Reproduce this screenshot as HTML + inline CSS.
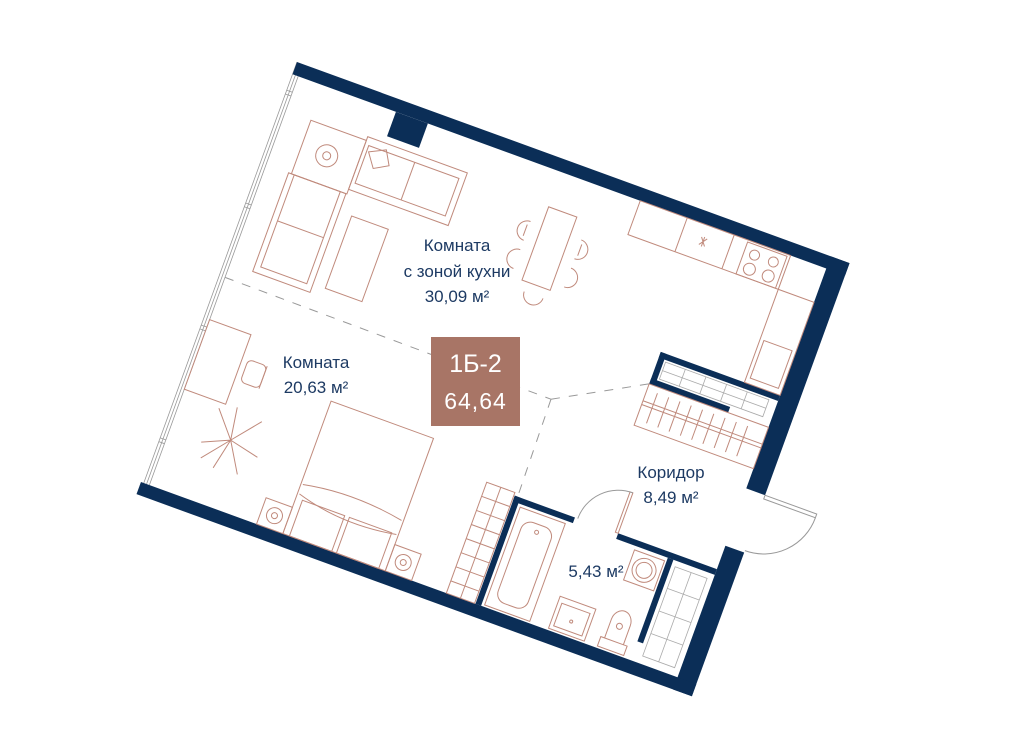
<!DOCTYPE html>
<html><head><meta charset="utf-8"><style>
html,body{margin:0;padding:0;background:#fff;}
svg{display:block;}
.t{font-family:"Liberation Sans",sans-serif;fill:#1d3a63;font-size:17px;}
</style></head><body>
<svg width="1024" height="742" viewBox="0 0 1024 742" xmlns="http://www.w3.org/2000/svg">
<g transform="translate(297,62) rotate(20)">
 <g fill="none" stroke="#999" stroke-width="0.8">
  <line x1="0" y1="0" x2="0" y2="448"/><line x1="3" y1="0" x2="3" y2="448"/><line x1="6" y1="13" x2="6" y2="448"/>
  <line x1="0" y1="30" x2="6" y2="30"/><line x1="0" y1="34" x2="6" y2="34"/>
  <line x1="0" y1="150" x2="6" y2="150"/><line x1="0" y1="154" x2="6" y2="154"/>
  <line x1="0" y1="280" x2="6" y2="280"/><line x1="0" y1="284" x2="6" y2="284"/>
  <line x1="0" y1="400" x2="6" y2="400"/><line x1="0" y1="404" x2="6" y2="404"/>
 </g>
 <g fill="#0b2e57">
  <rect x="0" y="0" width="588" height="13"/>
  <rect x="568" y="0" width="20" height="247"/>
  <rect x="568" y="308" width="20" height="153"/>
  <rect x="-3" y="448" width="591" height="13"/>
  <rect x="110" y="13" width="34" height="26"/>
  <rect x="353" y="333" width="6" height="115"/>
  <rect x="353" y="333" width="64" height="6"/>
  <rect x="463" y="333" width="105" height="6"/>
  <rect x="518" y="339" width="6" height="89"/>
  <rect x="441" y="148" width="127" height="6"/>
  <rect x="441" y="148" width="6" height="34"/>
  <rect x="441" y="176" width="84" height="6"/>
 </g>
 <g fill="none" stroke="#aaa" stroke-width="0.8">
  <rect x="449" y="156" width="110" height="18"/>
  <line x1="449" y1="165" x2="559" y2="165"/>
  <line x1="470" y1="156" x2="470" y2="174"/><line x1="492" y1="156" x2="492" y2="174"/><line x1="514" y1="156" x2="514" y2="174"/><line x1="536" y1="156" x2="536" y2="174"/>
  <rect x="528" y="345" width="34" height="95"/>
  <line x1="545" y1="345" x2="545" y2="440"/>
  <line x1="528" y1="368" x2="562" y2="368"/><line x1="528" y1="392" x2="562" y2="392"/><line x1="528" y1="416" x2="562" y2="416"/>
 </g>
 <g fill="none" stroke="#999" stroke-width="1" stroke-dasharray="9,9">
  <line x1="6" y1="227" x2="354" y2="230"/>
  <line x1="354" y1="230" x2="441" y2="182"/>
  <line x1="354" y1="230" x2="356" y2="333"/>
 </g>
 <g fill="none" stroke="#c08a7c" stroke-width="1">
  <rect x="92" y="46" width="106" height="56"/>
  <rect x="96" y="54" width="96" height="40"/>
  <line x1="145" y1="54" x2="145" y2="94"/>
  <rect x="30" y="107" width="61" height="105"/>
  <rect x="36" y="107" width="49" height="98"/>
  <line x1="36" y1="156" x2="85" y2="156"/>
  <rect x="33" y="50" width="59" height="57"/>
  <circle cx="60" cy="78" r="11"/><circle cx="60" cy="78" r="4"/>
  <path d="M98 60 L114 52 L122 66 L108 74 Z"/>
  <rect x="104" y="126" width="39" height="77"/>
  <rect x="286" y="50" width="30" height="78"/>
  <path d="M274 70 a10 10 0 0 0 0 20 M272 74 v12"/>
  <path d="M328 70 a10 10 0 0 1 0 20 M330 74 v12"/>
  <path d="M274 100 a10 10 0 0 0 0 20"/><path d="M328 100 a10 10 0 0 1 0 20"/>
  <path d="M292 138 a10 10 0 0 0 20 0"/>
  <rect x="370" y="13" width="160" height="36"/>
  <line x1="420" y1="13" x2="420" y2="49"/><line x1="470" y1="13" x2="470" y2="49"/>
  <path d="M440 26 l6 8 M446 26 l-6 8 M443 25 v10"/>
  <rect x="485" y="15" width="42" height="34"/>
  <circle cx="496" cy="25" r="5"/><circle cx="516" cy="25" r="5"/><circle cx="496" cy="40" r="6"/><circle cx="516" cy="40" r="6"/>
  <rect x="530" y="49" width="38" height="99"/>
  <rect x="534" y="102" width="30" height="40"/>
  <rect x="441" y="182" width="127" height="44"/>
  <line x1="441" y1="200" x2="568" y2="200"/><line x1="441" y1="204" x2="568" y2="204"/>
  <path d="M452 188 v32 M464 188 v32 M476 188 v32 M488 188 v32 M500 188 v32 M512 188 v32 M524 188 v32 M536 188 v32 M548 188 v32"/>
  <rect x="6" y="272" width="44" height="74"/>
  <rect x="56" y="296" width="20" height="24" rx="5"/>
  <line x1="76" y1="296" x2="76" y2="320"/>
  <path d="M67 378 L45 352 M67 378 L90 350 M67 378 L40 390 M67 378 L98 385 M67 378 L60 410 M67 378 L85 408 M67 378 L62 345 M67 378 L45 405"/>
  <rect x="148" y="307" width="109" height="141"/>
  <path d="M150 395 Q200 385 255 395"/>
  <path d="M150 405 Q200 420 255 410"/>
  <rect x="155" y="410" width="45" height="38"/><rect x="205" y="410" width="45" height="38"/>
  <rect x="120" y="420" width="28" height="28"/><circle cx="134" cy="434" r="8"/><circle cx="134" cy="434" r="3"/>
  <rect x="257" y="420" width="28" height="28"/><circle cx="271" cy="434" r="8"/><circle cx="271" cy="434" r="3"/>
  <rect x="322" y="330" width="30" height="118"/>
  <line x1="337" y1="330" x2="337" y2="448"/>
  <path d="M322 345 h30 M322 360 h30 M322 375 h30 M322 390 h30 M322 405 h30 M322 420 h30 M322 435 h30"/>
  <rect x="362" y="342" width="48" height="104"/>
  <rect x="370" y="352" width="32" height="86" rx="10"/>
  <circle cx="386" cy="360" r="2"/>
  <rect x="460" y="290" width="3" height="43"/>
  <path d="M463 290 A43 43 0 0 0 420 333" stroke="#999"/>
  <rect x="484" y="343" width="32" height="32"/><circle cx="500" cy="359" r="12"/><circle cx="500" cy="359" r="8"/>
  <rect x="430" y="412" width="38" height="34"/><rect x="434" y="418" width="30" height="24"/><circle cx="449" cy="432" r="1.5"/>
  <rect x="482" y="436" width="28" height="10"/>
  <path d="M486 436 v-20 a10 12 0 0 1 20 0 v20"/><circle cx="496" cy="420" r="3"/>
  <rect x="588" y="247" width="55" height="4" stroke="#999"/>
  <path d="M643 251 A55 55 0 0 1 588 306" stroke="#999"/>
 </g>
</g>
<rect x="431" y="337" width="89" height="89" fill="#a87566"/>
<text x="475.5" y="372" text-anchor="middle" font-family="Liberation Sans,sans-serif" font-size="25" fill="#fff">1Б-2</text>
<text x="475.5" y="409" text-anchor="middle" font-family="Liberation Sans,sans-serif" font-size="23" fill="#fff" letter-spacing="1">64,64</text>
<text class="t" x="457" y="251" text-anchor="middle">Комната</text>
<text class="t" x="457" y="277" text-anchor="middle">с зоной кухни</text>
<text class="t" x="457" y="302" text-anchor="middle">30,09 м²</text>
<text class="t" x="316" y="368" text-anchor="middle">Комната</text>
<text class="t" x="316" y="393" text-anchor="middle">20,63 м²</text>
<text class="t" x="671" y="478" text-anchor="middle">Коридор</text>
<text class="t" x="671" y="503" text-anchor="middle">8,49 м²</text>
<text class="t" x="596" y="577" text-anchor="middle">5,43 м²</text>
</svg>
</body></html>
